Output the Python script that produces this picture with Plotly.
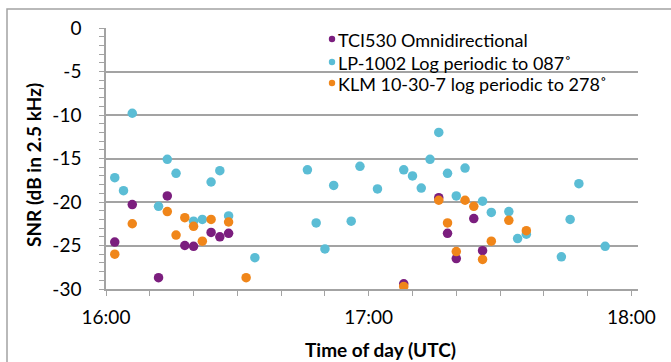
import plotly.graph_objects as go

DAY = "2000-01-01 "

# TCI530 Omnidirectional
tci_time = ["16:02", "16:06", "16:12", "16:14", "16:18", "16:20", "16:24", "16:26", "16:28",
            "17:08", "17:16", "17:18", "17:20", "17:24", "17:26"]
tci_snr = [-24.6, -20.3, -28.7, -19.3, -25.0, -25.1, -23.5, -24.0, -23.6,
           -29.4, -19.5, -23.6, -26.5, -21.9, -25.6]

# LP-1002 Log periodic to 087
lp_time = ["16:02", "16:04", "16:06", "16:12", "16:14", "16:16", "16:20", "16:22", "16:24",
           "16:26", "16:28", "16:34", "16:46", "16:48", "16:50", "16:52", "16:56", "16:58",
           "17:02", "17:08", "17:10", "17:12", "17:14", "17:16", "17:18", "17:20", "17:22",
           "17:26", "17:28", "17:32", "17:34", "17:36", "17:44", "17:46", "17:48", "17:54"]
lp_snr = [-17.2, -18.7, -9.8, -20.5, -15.1, -16.7, -22.2, -22.0, -17.7,
          -16.4, -21.6, -26.4, -16.3, -22.4, -25.4, -18.1, -22.2, -15.9,
          -18.5, -16.3, -17.0, -18.4, -15.1, -12.0, -16.7, -19.3, -16.1,
          -19.9, -21.2, -21.1, -24.2, -23.7, -26.3, -22.0, -17.9, -25.1]

# KLM 10-30-7 log periodic to 278
klm_time = ["16:02", "16:06", "16:14", "16:16", "16:18", "16:20", "16:22", "16:24", "16:28",
            "16:32", "17:08", "17:16", "17:18", "17:20", "17:22", "17:24", "17:26", "17:28",
            "17:32", "17:36"]
klm_snr = [-26.0, -22.5, -21.1, -23.8, -21.8, -22.8, -24.5, -22.0, -22.3,
           -28.7, -29.7, -19.8, -22.4, -25.7, -19.8, -20.5, -26.6, -24.5,
           -22.1, -23.3]

series_names = ["TCI530 Omnidirectional", "LP-1002 Log periodic to 087˚",
                "KLM 10-30-7 log periodic to 278˚"]
series_colors = ["#7B1E7E", "#5BBDD5", "#F0861A"]

y_ticks = [0, -5, -10, -15, -20, -25, -30]
x_tick_labels = ["16:00", "17:00", "18:00"]

FONT = "Lato"
GRID = "#A3A3A3"

fig = go.Figure()
for times, vals, name, color in zip([tci_time, lp_time, klm_time],
                                     [tci_snr, lp_snr, klm_snr],
                                     series_names, series_colors):
    fig.add_trace(go.Scatter(
        x=[DAY + t for t in times], y=vals, mode="markers", name=name,
        marker=dict(size=9.5, color=color, line=dict(width=0)),
        showlegend=False))

L, R, T, B = 106, 33, 28, 73
W, H = 671, 362
pw, ph = W - L - R, H - T - B


def px_x(px):
    return (px - L) / pw


def px_y(py):
    return (H - B - py) / ph


fig.update_layout(
    width=W, height=H,
    margin=dict(l=L, r=R, t=T, b=B, pad=0),
    paper_bgcolor="white", plot_bgcolor="white",
    font=dict(family=FONT, size=19, color="#000000"),
    showlegend=False,
    xaxis=dict(
        type="date",
        range=[DAY + "16:00", DAY + "18:01:30"],
        tickvals=[DAY + t for t in x_tick_labels],
        ticktext=x_tick_labels,
        ticks="outside", ticklen=5, tickwidth=1.3, tickcolor=GRID,
        minor=dict(dtick=600000, tick0=DAY + "16:00", ticks="outside",
                   ticklen=5, tickwidth=1.3, tickcolor=GRID, showgrid=False),
        showgrid=False, zeroline=False,
        showline=True, linecolor=GRID, linewidth=1.5,
        ticklabelstandoff=5,
        tickfont=dict(family=FONT, size=19),
    ),
    yaxis=dict(
        range=[-30, 0],
        tickvals=y_ticks,
        ticktext=[str(v) for v in y_ticks],
        ticks="outside", ticklen=5, tickwidth=1.3, tickcolor=GRID,
        minor=dict(dtick=1, ticks="outside", ticklen=5, tickwidth=1.3,
                   tickcolor=GRID, showgrid=False),
        showgrid=True, gridcolor=GRID, gridwidth=1.5,
        zeroline=False,
        showline=True, linecolor=GRID, linewidth=1.5,
        ticklabelstandoff=14,
        tickfont=dict(family=FONT, size=19),
    ),
)

# outer chart frame
fig.add_shape(type="rect", xref="paper", yref="paper",
              x0=px_x(7), x1=px_x(720), y0=px_y(420), y1=px_y(9),
              line=dict(color=GRID, width=1.5), fillcolor="rgba(0,0,0,0)", layer="below")

# axis titles
fig.add_annotation(text="<b>Time of day (UTC)</b>", xref="paper", yref="paper",
                   x=px_x(380), y=px_y(349), xanchor="center", yanchor="middle",
                   showarrow=False, font=dict(family=FONT, size=19))
fig.add_annotation(text="<b>SNR (dB in 2.5 kHz)</b>", xref="paper", yref="paper",
                   x=px_x(33), y=px_y(165), xanchor="center", yanchor="middle",
                   textangle=-90, showarrow=False, font=dict(family=FONT, size=19))

# legend (swatches + labels)
legend_rows = [39, 62, 83]
for name, color, ry in zip(series_names, series_colors, legend_rows):
    fig.add_shape(type="circle", xref="paper", yref="paper",
                  xsizemode="pixel", ysizemode="pixel",
                  xanchor=px_x(332), yanchor=px_y(ry),
                  x0=-3.2, x1=3.2, y0=-3.2, y1=3.2,
                  fillcolor=color, line=dict(width=0))
    fig.add_annotation(text=name, xref="paper", yref="paper",
                       x=px_x(336), y=px_y(ry + 1), xanchor="left", yanchor="middle",
                       showarrow=False, font=dict(family=FONT, size=18))

fig.write_html("out.html")
